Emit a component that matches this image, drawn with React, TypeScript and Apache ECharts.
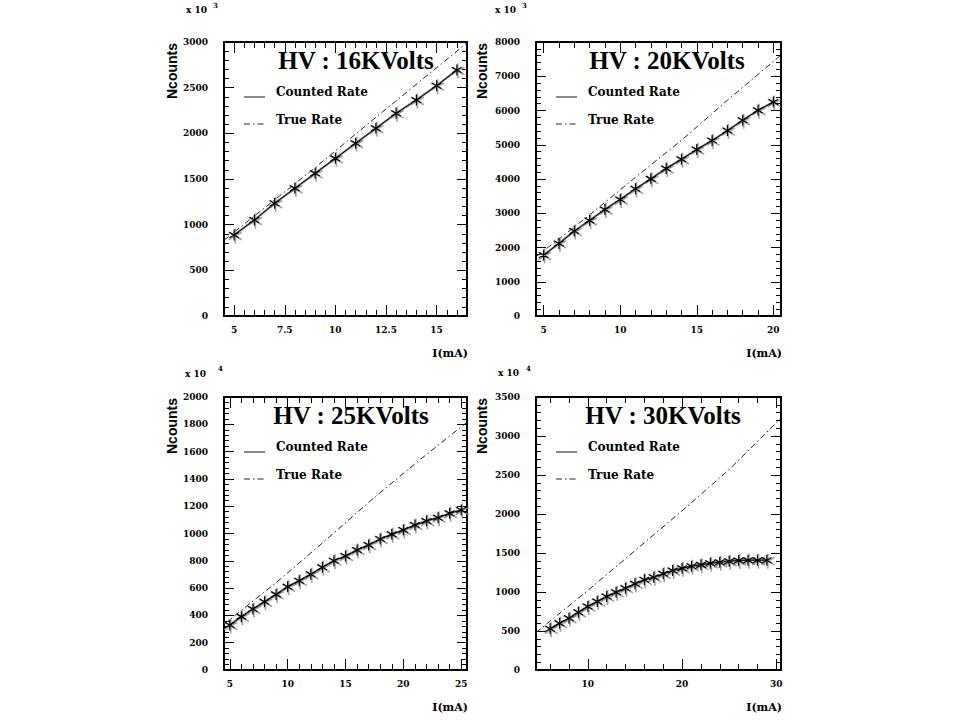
import React, { useEffect, useRef } from "react";
import * as echarts from "echarts";

// ---- data ----
const current16 = [5, 6, 7, 8, 9, 10, 11, 12, 13, 14, 15, 16];
const counted16 = [887, 1051, 1234, 1398, 1562, 1726, 1891, 2055, 2219, 2365, 2522, 2693];
const trueI16 = [4.5, 9, 12, 16.5];
const true16 = [830, 1625, 2175, 2990];

const current20 = [5, 6, 7, 8, 9, 10, 11, 12, 13, 14, 15, 16, 17, 18, 19, 20];
const counted20 = [1779, 2119, 2479, 2790, 3110, 3402, 3713, 4004, 4306, 4578, 4860, 5122, 5413, 5715, 6006, 6249];
const trueI20 = [4.5, 8, 11, 14, 17, 20.5];
const true20 = [1730, 2950, 4050, 5130, 6300, 7620];

const current25 = [5, 6, 7, 8, 9, 10, 11, 12, 13, 14, 15, 16, 17, 18, 19, 20, 21, 22, 23, 24, 25];
const counted25 = [330, 391, 447, 500, 554, 610, 654, 701, 752, 801, 835, 879, 916, 960, 994, 1026, 1062, 1092, 1116, 1148, 1172];
const trueI25 = [4.5, 9, 13, 17.5, 21.5, 25.5];
const true25 = [335, 640, 930, 1265, 1545, 1815];

const current30 = [6, 7, 8, 9, 10, 11, 12, 13, 14, 15, 16, 17, 18, 19, 20, 21, 22, 23, 24, 25, 26, 27, 28, 29];
const counted30 = [528, 600, 664, 741, 814, 878, 942, 997, 1049, 1105, 1156, 1190, 1233, 1276, 1305, 1331, 1348, 1369, 1382, 1395, 1404, 1408, 1408, 1408];
const trueI30 = [4.5, 10, 15, 20, 25, 30.5];
const true30 = [480, 1020, 1530, 2040, 2570, 3230];

const titles = ["HV : 16KVolts", "HV : 20KVolts", "HV : 25KVolts", "HV : 30KVolts"];
const exponents = ["3", "3", "4", "4"];
const xMajor16 = [5, 7.5, 10, 12.5, 15];
const xMajor20 = [5, 10, 15, 20];
const xMajor25 = [5, 10, 15, 20, 25];
const xMajor30 = [10, 20, 30];

function tickList(from: number, to: number, step: number) {
  const out: number[] = [];
  for (let v = from; v <= to + 1e-9; v += step) out.push(Math.round(v * 1000) / 1000);
  return out;
}

const panels = [
  { cur: current16, cnt: counted16, tI: trueI16, tV: true16, xMin: 4.5, xMax: 16.5, xMajor: xMajor16, xMinor: tickList(5, 16.5, 0.5), yMax: 3000, yInt: 500,
    left: 224, top: 42, width: 243, height: 274, titleX: 356, expX: 186, expY: 10, supX: 213, supY: 5, nX: 172 },
  { cur: current20, cnt: counted20, tI: trueI20, tV: true20, xMin: 4.5, xMax: 20.5, xMajor: xMajor20, xMinor: tickList(5, 20, 1), yMax: 8000, yInt: 1000,
    left: 536, top: 42, width: 245, height: 274, titleX: 667, expX: 495, expY: 10, supX: 522, supY: 5, nX: 482 },
  { cur: current25, cnt: counted25, tI: trueI25, tV: true25, xMin: 4.5, xMax: 25.5, xMajor: xMajor25, xMinor: tickList(5, 25, 1), yMax: 2000, yInt: 200,
    left: 224, top: 397, width: 243, height: 273, titleX: 351, expX: 185, expY: 374, supX: 218, supY: 368, nX: 172 },
  { cur: current30, cnt: counted30, tI: trueI30, tV: true30, xMin: 4.5, xMax: 30.5, xMajor: xMajor30, xMinor: tickList(6, 30, 2), yMax: 3500, yInt: 500,
    left: 536, top: 397, width: 245, height: 273, titleX: 663, expX: 498, expY: 373, supX: 526, supY: 368, nX: 482 },
];

const STAR = "path://M0,-10L0,10M-8.66,-5L8.66,5M-8.66,5L8.66,-5";
const GRAY = "#8a8a8a";
const DASHDOT = [6, 3, 1.5, 3];
const tickFont = { fontFamily: "DejaVu Serif", fontWeight: "bold" as const, fontSize: 9, color: "#000" };

export default function App() {
  const ref = useRef<HTMLDivElement>(null);
  useEffect(() => {
    if (!ref.current) return;
    const chart = echarts.init(ref.current, undefined, { renderer: "svg" });
    const grids: any[] = [];
    const xAxes: any[] = [];
    const yAxes: any[] = [];
    const series: any[] = [];
    const graphic: any[] = [];
    const plain = (v: number) => String(v);

    panels.forEach((p, gi) => {
      grids.push({ left: p.left, top: p.top, width: p.width, height: p.height, show: false, containLabel: false });
      const xBase = {
        type: "value", gridIndex: gi, min: p.xMin, max: p.xMax,
        splitLine: { show: false },
        axisLabel: { show: false },
      };
      const line = { show: true, onZero: false, lineStyle: { color: "#000", width: 2 } };
      const noLine = { show: false, onZero: false };
      const tickStyle = { color: "#000", width: 1 };
      xAxes.push(
        { ...xBase, position: "bottom", axisLine: line,
          axisTick: { show: true, inside: true, length: 11, customValues: p.xMajor, lineStyle: tickStyle },
          axisLabel: { show: true, customValues: p.xMajor, margin: 9, formatter: plain, ...tickFont } },
        { ...xBase, position: "bottom", axisLine: noLine,
          axisTick: { show: true, inside: true, length: 6, customValues: p.xMinor, lineStyle: tickStyle } },
        { ...xBase, position: "top", axisLine: line,
          axisTick: { show: true, inside: true, length: 11, customValues: p.xMajor, lineStyle: tickStyle } },
        { ...xBase, position: "top", axisLine: noLine,
          axisTick: { show: true, inside: true, length: 6, customValues: p.xMinor, lineStyle: tickStyle } },
      );
      const yBase = {
        type: "value", gridIndex: gi, min: 0, max: p.yMax, interval: p.yInt,
        splitLine: { show: false },
        axisLine: line,
        axisTick: { show: true, inside: true, length: 10, lineStyle: tickStyle },
        minorTick: { show: true, splitNumber: 5, length: 5, lineStyle: tickStyle },
      };
      yAxes.push(
        { ...yBase, position: "left", axisLabel: { show: true, margin: 16, formatter: plain, ...tickFont } },
        { ...yBase, position: "right", axisLabel: { show: false } },
      );
      const xi = gi * 4;
      const yi = gi * 2;
      const cntData = p.cur.map((c, i) => [c, p.cnt[i]]);
      series.push(
        { type: "line", xAxisIndex: xi, yAxisIndex: yi, data: p.tI.map((c, i) => [c, p.tV[i]]),
          symbol: "none", lineStyle: { color: "#222", width: 1, type: DASHDOT }, z: 2 },
        { type: "line", xAxisIndex: xi, yAxisIndex: yi, data: cntData,
          symbol: "none", lineStyle: { color: GRAY, width: 2.2 }, z: 3 },
        { type: "scatter", xAxisIndex: xi, yAxisIndex: yi, data: cntData,
          symbol: STAR, symbolSize: 15, symbolKeepAspect: true, symbolOffset: [1, 1],
          itemStyle: { color: GRAY, borderColor: GRAY, borderWidth: 1.6 }, z: 4 },
        { type: "line", xAxisIndex: xi, yAxisIndex: yi, data: cntData,
          symbol: STAR, symbolSize: 11, symbolKeepAspect: true, showSymbol: true,
          lineStyle: { color: "#000", width: 1 },
          itemStyle: { color: "#000", borderColor: "#000", borderWidth: 1.2 }, z: 5 },
      );
      const right = p.left + p.width;
      const bottom = p.top + p.height;
      graphic.push(
        { type: "text", x: p.titleX, y: p.top + 18, z: 10,
          style: { text: titles[gi], textAlign: "center", verticalAlign: "middle", font: 'bold 25px "Liberation Serif"', fill: "#000" } },
        { type: "line", shape: { x1: p.left + 20, y1: p.top + 55, x2: p.left + 41, y2: p.top + 55 },
          style: { stroke: GRAY, lineWidth: 2 } },
        { type: "text", x: p.left + 52, y: p.top + 50,
          style: { text: "Counted Rate", verticalAlign: "middle", font: 'bold 12px "DejaVu Serif"', fill: "#000" } },
        { type: "line", shape: { x1: p.left + 20, y1: p.top + 82, x2: p.left + 41, y2: p.top + 82 },
          style: { stroke: "#222", lineWidth: 1, lineDash: DASHDOT } },
        { type: "text", x: p.left + 52, y: p.top + 78,
          style: { text: "True Rate", verticalAlign: "middle", font: 'bold 12px "DejaVu Serif"', fill: "#000" } },
        { type: "text", x: p.expX, y: p.expY,
          style: { text: "x 10", verticalAlign: "middle", font: 'bold 9px "DejaVu Serif"', fill: "#000" } },
        { type: "text", x: p.supX, y: p.supY,
          style: { text: exponents[gi], verticalAlign: "middle", font: 'bold 7px "DejaVu Serif"', fill: "#000" } },
        { type: "text", x: p.nX, y: p.top + 29, rotation: Math.PI / 2,
          style: { text: "Ncounts", textAlign: "center", verticalAlign: "middle", font: 'bold 14px "Liberation Sans"', fill: "#000" } },
        { type: "text", x: right + 1, y: bottom + 37,
          style: { text: "I(mA)", textAlign: "right", verticalAlign: "middle", font: 'bold 11px "DejaVu Serif"', fill: "#000" } },
      );
    });

    chart.setOption({
      animation: false,
      backgroundColor: "#fff",
      grid: grids,
      xAxis: xAxes,
      yAxis: yAxes,
      series,
      graphic,
    });
    return () => chart.dispose();
  }, []);
  return <div ref={ref} style={{ position: "absolute", left: 0, top: 0, width: 960, height: 720 }} />;
}
